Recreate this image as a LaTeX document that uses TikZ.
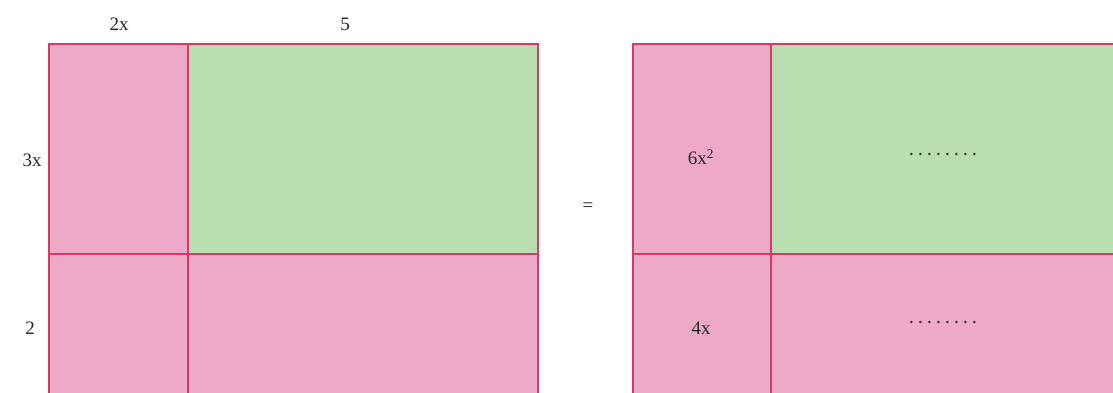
\documentclass[tikz,border=0pt]{standalone}
\usepackage{fontspec}
\setmainfont{Liberation Serif}
\definecolor{cpink}{HTML}{EEA8C8}
\definecolor{cgreen}{HTML}{B9DFB0}
\definecolor{cedge}{HTML}{D43A64}
\tikzset{
  cell/.style={draw=cedge, line width=1.6pt, inner sep=0pt, outer sep=0pt, anchor=north west, font=\fontsize{19}{22}\selectfont},
  pinkcell/.style={cell, fill=cpink},
  greencell/.style={cell, fill=cgreen},
  lbl/.style={font=\fontsize{19}{22}\selectfont, text=black!85, inner sep=0pt},
  dots/.style={font=\fontsize{15}{18}\selectfont\bfseries\addfontfeature{LetterSpace=35}, text=black!80, inner sep=0pt}
}
\begin{document}
\begin{tikzpicture}[x=1pt,y=-1pt]
\useasboundingbox (0,0) rectangle (1113,393);
\clip (0,0) rectangle (1113,393);
% left rectangle
\node[pinkcell, minimum width=139pt, minimum height=210pt] (la) at (49,44) {};
\node[greencell, minimum width=350pt, minimum height=210pt] (lb) at (188,44) {};
\node[pinkcell, minimum width=139pt, minimum height=160pt] (lc) at (49,254) {};
\node[pinkcell, minimum width=350pt, minimum height=160pt] (ld) at (188,254) {};
% right rectangle
\node[pinkcell, minimum width=138pt, minimum height=210pt] (ra) at (633,44) {};
\node[greencell, minimum width=360pt, minimum height=210pt] (rb) at (771,44) {};
\node[pinkcell, minimum width=138pt, minimum height=160pt] (rc) at (633,254) {};
\node[pinkcell, minimum width=360pt, minimum height=160pt] (rd) at (771,254) {};
% labels
\node[lbl] (t2x) at (119,24) {2x};
\node[lbl] (t5) at (345,24) {5};
\node[lbl] (t3x) at (32,160) {3x};
\node[lbl] (t2) at (30,328) {2};
\node[lbl] (eq) at (588,207) {=};
\node[lbl] (t6x) at (701,157) {6x\textsuperscript{2}};
\node[dots] (d1) at (943,154) {........};
\node[lbl] (t4x) at (701,328) {4x};
\node[dots] (d2) at (943,322) {........};
\end{tikzpicture}
\end{document}
